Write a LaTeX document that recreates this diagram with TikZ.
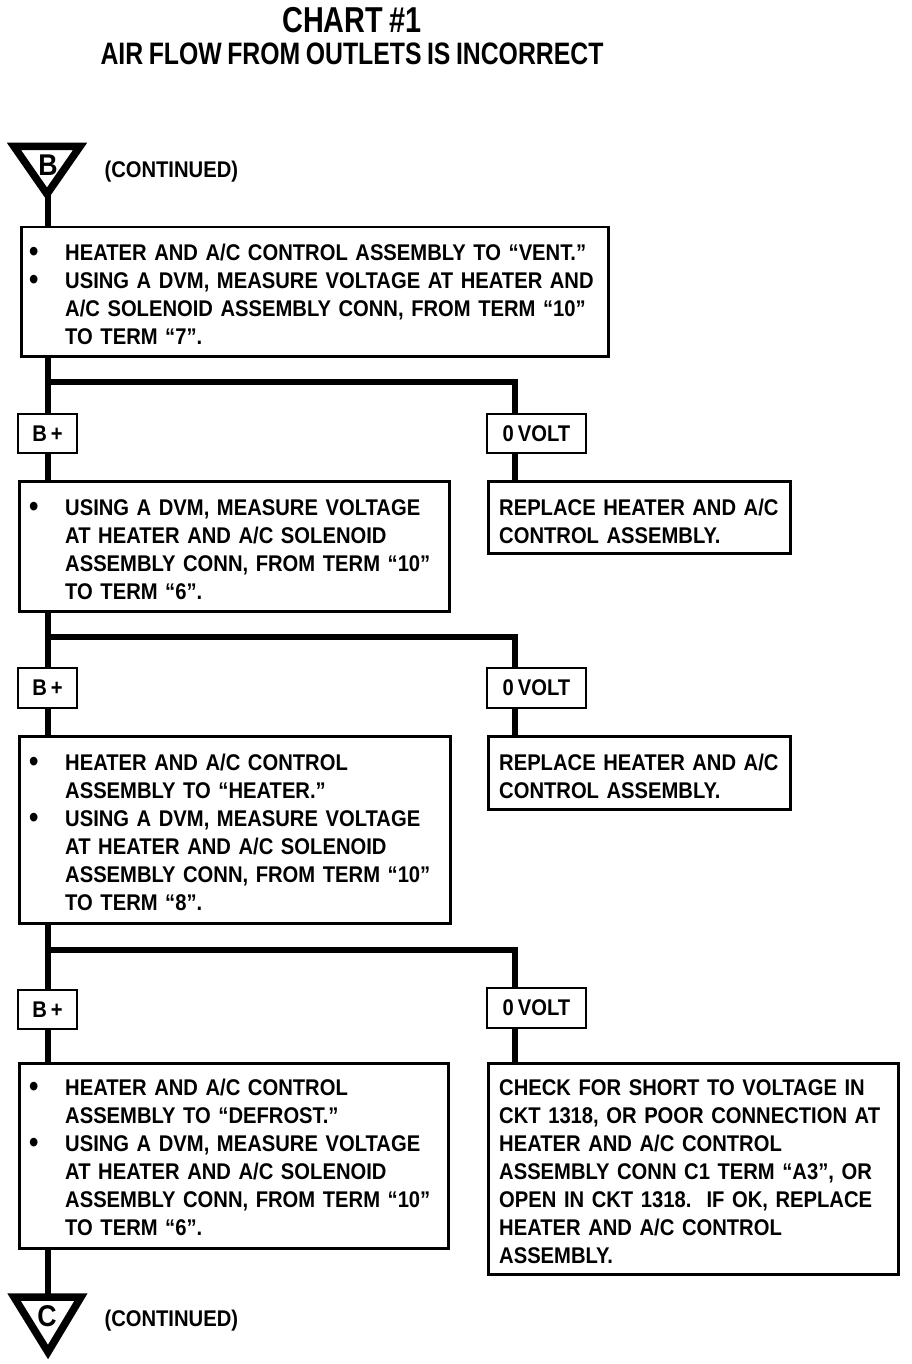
\documentclass[tikz,border=0pt]{standalone}
\usepackage{fontspec}
\setmainfont{Liberation Sans}[FakeStretch=0.89,WordSpace=0.72]
\newfontfamily\titlefont{Liberation Sans}[FakeStretch=0.8,WordSpace=0.8]
\newcommand\bodyfont{\bfseries\fontsize{22.7}{28}\selectfont}
\newcommand\bulletmark{\makebox[36pt][l]{\raisebox{-1pt}{\fontsize{30}{28}\selectfont\textbullet}}}
\newcommand\contind{\hspace*{36pt}}
\begin{document}
\begin{tikzpicture}[x=1pt,y=-1pt,
  box/.style={draw, line width=2.5pt, anchor=north west, inner sep=0pt},
  tag/.style={draw, line width=2.5pt, inner sep=0pt, font=\bodyfont},
  txt/.style={anchor=north west, inner sep=0pt, align=left, text width=600pt, font=\bodyfont},
  flow/.style={line width=6pt, line join=miter},
  tri/.style={draw, line width=7.5pt, line join=miter, fill=white},
  letter/.style={font=\bfseries\fontsize{30}{30}\selectfont}]
\useasboundingbox (0,0) rectangle (912,1364);
\fill[white] (0,0) rectangle (912,1364);

% titles
\node[font=\titlefont\bfseries\fontsize{36}{40}\selectfont] (title) at (352,20) {CHART \#1};
\node[font=\titlefont\bfseries\fontsize{31}{34}\selectfont] (subtitle) at (352,54) {AIR FLOW FROM OUTLETS IS INCORRECT};

% top connector triangle
\draw[tri] (14,146.5) -- (80,146.5) -- (47,194) -- cycle;
\coordinate (tB) at (48,194);
\node[letter] (lB) at (48,165) {B};
\node[font=\bodyfont, anchor=west] (contB) at (101,172) {(CONTINUED)};

% box 1
\node[box, minimum width=587pt, minimum height=129pt] (b1) at (20,226) {};
\node[txt] (t1) at (29,241) {\strut\bulletmark HEATER AND A/C CONTROL ASSEMBLY TO “VENT.”\\
\strut\bulletmark USING A DVM, MEASURE VOLTAGE AT HEATER AND\\
\strut\contind A/C SOLENOID ASSEMBLY CONN, FROM TERM “10”\\
\strut\contind TO TERM “7”.};

% level 1 tags
\node[tag, minimum width=59pt, minimum height=39pt] (p1) at (47.5,433.5) {B +};
\node[tag, minimum width=99pt, minimum height=39pt] (z1) at (536.5,433.5) {0 VOLT};
\coordinate (j1) at (48,382);
\coordinate (k1) at (515,382);

% box 2 and replace 1
\node[box, minimum width=430pt, minimum height=130pt] (b2) at (18,480) {};
\node[txt] (t2) at (29,496) {\strut\bulletmark USING A DVM, MEASURE VOLTAGE\\
\strut\contind AT HEATER AND A/C SOLENOID\\
\strut\contind ASSEMBLY CONN, FROM TERM “10”\\
\strut\contind TO TERM “6”.};
\node[box, minimum width=302pt, minimum height=72pt] (r1) at (487,480) {};
\node[txt] (tr1) at (499,496) {\strut REPLACE HEATER AND A/C\\
\strut CONTROL ASSEMBLY.};

% level 2 tags
\node[tag, minimum width=59pt, minimum height=40pt] (p2) at (47.5,688) {B +};
\node[tag, minimum width=99pt, minimum height=40pt] (z2) at (536.5,688) {0 VOLT};
\coordinate (j2) at (48,637);
\coordinate (k2) at (515,637);

% box 3 and replace 2
\node[box, minimum width=431pt, minimum height=187pt] (b3) at (18,735) {};
\node[txt] (t3) at (29,751) {\strut\bulletmark HEATER AND A/C CONTROL\\
\strut\contind ASSEMBLY TO “HEATER.”\\
\strut\bulletmark USING A DVM, MEASURE VOLTAGE\\
\strut\contind AT HEATER AND A/C SOLENOID\\
\strut\contind ASSEMBLY CONN, FROM TERM “10”\\
\strut\contind TO TERM “8”.};
\node[box, minimum width=302pt, minimum height=73pt] (r2) at (487,735) {};
\node[txt] (tr2) at (499,751) {\strut REPLACE HEATER AND A/C\\
\strut CONTROL ASSEMBLY.};

% level 3 tags
\node[tag, minimum width=59pt, minimum height=39pt] (p3) at (47.5,1009.5) {B +};
\node[tag, minimum width=99pt, minimum height=40pt] (z3) at (536.5,1008) {0 VOLT};
\coordinate (j3) at (48,950);
\coordinate (k3) at (515,950);

% box 4 and check box
\node[box, minimum width=429pt, minimum height=185pt] (b4) at (18,1062) {};
\node[txt] (t4) at (29,1076) {\strut\bulletmark HEATER AND A/C CONTROL\\
\strut\contind ASSEMBLY TO “DEFROST.”\\
\strut\bulletmark USING A DVM, MEASURE VOLTAGE\\
\strut\contind AT HEATER AND A/C SOLENOID\\
\strut\contind ASSEMBLY CONN, FROM TERM “10”\\
\strut\contind TO TERM “6”.};
\node[box, minimum width=410pt, minimum height=211pt] (c4) at (487,1062) {};
\node[txt] (tc4) at (499,1076) {\strut CHECK FOR SHORT TO VOLTAGE IN\\
\strut CKT 1318, OR POOR CONNECTION AT\\
\strut HEATER AND A/C CONTROL\\
\strut ASSEMBLY CONN C1 TERM “A3”, OR\\
\strut OPEN IN CKT 1318.\ \ IF OK, REPLACE\\
\strut HEATER AND A/C CONTROL\\
\strut ASSEMBLY.};

% bottom connector triangle
\coordinate (tC) at (48,1297);
\node[font=\bodyfont, anchor=west] (contC) at (101,1321) {(CONTINUED)};

% connectors
\draw[flow] (tB) -- (tB |- b1.north);
\draw[flow] (j1 |- b1.south) -- (j1 |- p1.north);
\draw[flow] (j1) -- (k1) -- (k1 |- z1.north);
\draw[flow] (j1 |- p1.south) -- (j1 |- b2.north);
\draw[flow] (k1 |- z1.south) -- (k1 |- r1.north);

\draw[flow] (j2 |- b2.south) -- (j2 |- p2.north);
\draw[flow] (j2) -- (k2) -- (k2 |- z2.north);
\draw[flow] (j2 |- p2.south) -- (j2 |- b3.north);
\draw[flow] (k2 |- z2.south) -- (k2 |- r2.north);

\draw[flow] (j3 |- b3.south) -- (j3 |- p3.north);
\draw[flow] (j3) -- (k3) -- (k3 |- z3.north);
\draw[flow] (j3 |- p3.south) -- (j3 |- b4.north);
\draw[flow] (k3 |- z3.south) -- (k3 |- c4.north);

\draw[flow] (j3 |- b4.south) -- (tC);
\draw[tri] (14,1297) -- (81,1297) -- (48,1352) -- cycle;
\node[letter] (lC) at (47,1316) {C};
\end{tikzpicture}
\end{document}
